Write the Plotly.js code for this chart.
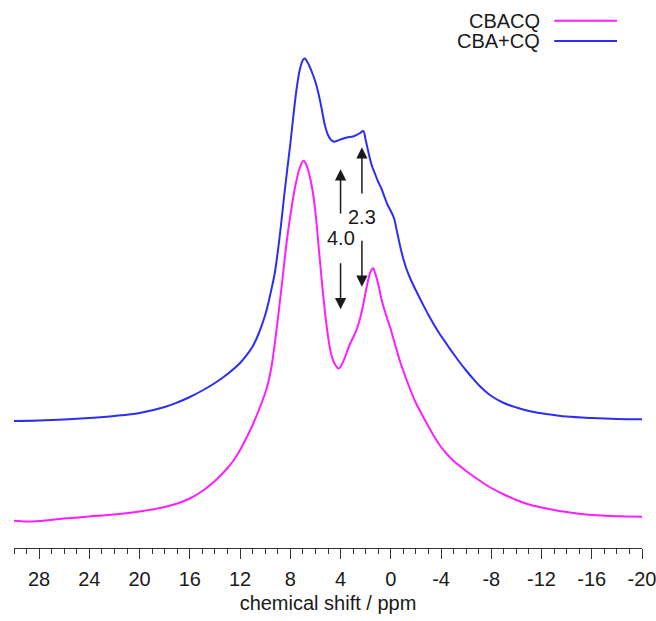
<!DOCTYPE html>
<html>
<head>
<meta charset="utf-8">
<script src="https://cdn.plot.ly/plotly-3.0.1.min.js"></script>
<style>
  html, body { margin: 0; padding: 0; background: #fff; }
  #chart { width: 656px; height: 621px; }
</style>
</head>
<body>
<div id="chart"></div>
<script>
// ---- data (chemical shift in ppm, intensity in arbitrary units) ----
var seriesNames = ['CBACQ', 'CBA+CQ'];

var cbacqShift = [30, 29, 28, 26, 24, 22, 20, 18, 17, 16, 15, 14, 13, 12.5, 12, 11.5, 11, 10.5, 10, 9.75, 9.5, 9.25, 9, 8.75, 8.5, 8.25, 8, 7.75, 7.5, 7.25, 6.95, 6.75, 6.5, 6.25, 6, 5.75, 5.5, 5.25, 5, 4.75, 4.5, 4.15, 3.75, 3.5, 3.25, 3, 2.75, 2.5, 2.25, 2, 1.75, 1.55, 1.4, 1.25, 1, 0.75, 0.5, 0.25, 0, -0.25, -0.5, -0.75, -1, -1.5, -2, -2.5, -3, -3.5, -4, -4.5, -5, -5.5, -6, -7, -8, -9, -10, -11, -12, -13, -14, -15, -16, -17, -18, -20];
var cbacqIntensity = [27.3, 26.5, 27, 29.5, 31.5, 33.5, 36.5, 41, 44.5, 49.5, 57, 67, 80, 88, 98, 110, 123, 138, 155, 166, 181, 203, 228, 255, 283, 310, 332, 352, 368, 380, 387.3, 384, 374, 359, 336, 302, 268, 237, 212, 194, 185, 179.5, 187.5, 196, 204, 210.5, 217.5, 227, 240, 256, 270.5, 278, 279.7, 275, 264, 249, 238, 228, 218.5, 207.5, 196.5, 186, 177, 160, 145, 133, 121.5, 110.5, 101, 93.5, 87, 82, 77, 68, 60, 53.5, 48, 43.5, 40.5, 38, 36, 34.3, 33, 32.3, 31.8, 31.3];

var cbaCqShift = [30, 28, 26, 24, 22, 20, 18, 17, 16, 15, 14, 13, 12, 11.5, 11, 10.5, 10, 9.75, 9.5, 9.25, 9, 8.75, 8.5, 8.25, 8, 7.75, 7.5, 7.25, 7, 6.85, 6.6, 6.3, 6, 5.75, 5.5, 5.25, 5, 4.75, 4.5, 4, 3.5, 3, 2.5, 2.2, 2, 1.75, 1.5, 1.25, 1, 0.75, 0.5, 0.25, 0, -0.25, -0.5, -0.75, -1, -1.25, -1.5, -1.75, -2, -2.5, -3, -3.5, -4, -4.5, -5, -5.5, -6, -6.5, -7, -7.5, -8, -9, -10, -11, -12, -13, -14, -16, -18, -20];
var cbaCqIntensity = [127, 127.5, 128.5, 130, 132, 135, 141, 145.5, 151, 157.5, 165, 174, 185, 192.5, 201.5, 215, 233, 245, 259, 274, 296, 322, 351, 378, 404, 433, 459, 478, 488, 489.5, 485, 476.5, 466, 454, 439, 423, 413, 408, 406.3, 408.5, 410.5, 411.5, 414.5, 417, 408, 394, 382, 374, 366, 359.5, 351, 343, 337, 330, 316, 301.5, 289, 279, 271, 264, 257.5, 245, 233, 222, 212, 203, 194, 185.5, 177.5, 170, 163, 157, 152, 145, 140.5, 137, 134.7, 133, 131.5, 130, 129, 128.7];

// difference markers: position (ppm), label, arrow spans (intensity)
var markShift = [4.0, 2.3];
var markLabel = ['4.0', '2.3'];
var markUpTail = [333, 353];
var markUpTip = [378.7, 400.7];
var markDownTail = [286.3, 308.7];
var markDownTip = [238.7, 261.3];

var tickVals = [28, 24, 20, 16, 12, 8, 4, 0, -4, -8, -12, -16, -20];
var tickText = ['28', '24', '20', '16', '12', '8', '4', '0', '-4', '-8', '-12', '-16', '-20'];

// ---- styles ----
var colors = ['#ff1eff', '#2e2ef2'];
var FONT = 'Liberation Sans, Arial, Helvetica, sans-serif';
var TXT = '#1a1a1a';

var traces = [
  { x: cbacqShift, y: cbacqIntensity, name: seriesNames[0], mode: 'lines',
    line: { color: colors[0], width: 2, shape: 'spline', smoothing: 1.0 } },
  { x: cbaCqShift, y: cbaCqIntensity, name: seriesNames[1], mode: 'lines',
    line: { color: colors[1], width: 2, shape: 'spline', smoothing: 1.0 } }
];

var annotations = [];
var shapes = [];

// arrows + labels
for (var i = 0; i < markShift.length; i++) {
  annotations.push({ x: markShift[i], y: markUpTip[i], ax: markShift[i], ay: markUpTail[i],
    xref: 'x', yref: 'y', axref: 'x', ayref: 'y', text: '', showarrow: true,
    arrowhead: 2, arrowsize: 1.5, arrowwidth: 1.5, arrowcolor: TXT });
  annotations.push({ x: markShift[i], y: markDownTip[i], ax: markShift[i], ay: markDownTail[i],
    xref: 'x', yref: 'y', axref: 'x', ayref: 'y', text: '', showarrow: true,
    arrowhead: 2, arrowsize: 1.5, arrowwidth: 1.5, arrowcolor: TXT });
  annotations.push({ x: markShift[i], y: (markUpTail[i] + markDownTail[i]) / 2,
    xref: 'x', yref: 'y', text: markLabel[i], showarrow: false,
    font: { family: FONT, size: 20, color: TXT } });
}

// manual legend (text on the left, line sample on the right)
var legY = [0.962, 0.925];
for (var j = 0; j < seriesNames.length; j++) {
  annotations.push({ x: 0.8407, y: legY[j], xref: 'paper', yref: 'paper',
    xanchor: 'right', yanchor: 'middle', text: seriesNames[j], showarrow: false,
    font: { family: FONT, size: 20, color: TXT } });
  shapes.push({ type: 'line', xref: 'paper', yref: 'paper',
    x0: 0.8603, x1: 0.9602, y0: legY[j], y1: legY[j],
    line: { color: colors[j], width: 2 } });
}

var layout = {
  width: 656, height: 621,
  margin: { l: 14, r: 14, t: 0, b: 73 },
  paper_bgcolor: '#fff', plot_bgcolor: '#fff',
  showlegend: false,
  font: { family: FONT, size: 20, color: TXT },
  xaxis: {
    range: [30, -20],
    showgrid: false, zeroline: false,
    showline: true, linecolor: '#333', linewidth: 1,
    ticks: 'outside', ticklen: 10, tickwidth: 1, tickcolor: '#333',
    tickmode: 'array', tickvals: tickVals, ticktext: tickText,
    ticklabelstandoff: 3, ticklabeloverflow: 'allow',
    tickfont: { family: FONT, size: 20, color: TXT },
    minor: { tickmode: 'linear', tick0: 0, dtick: 1, ticks: 'outside', ticklen: 5, tickwidth: 1, tickcolor: '#333' },
    title: { text: 'chemical shift / ppm', font: { family: FONT, size: 20, color: TXT }, standoff: 6 }
  },
  yaxis: { visible: false, range: [0, 548], fixedrange: true },
  annotations: annotations,
  shapes: shapes
};

Plotly.newPlot('chart', traces, layout, { displayModeBar: false, staticPlot: true });
</script>
</body>
</html>
